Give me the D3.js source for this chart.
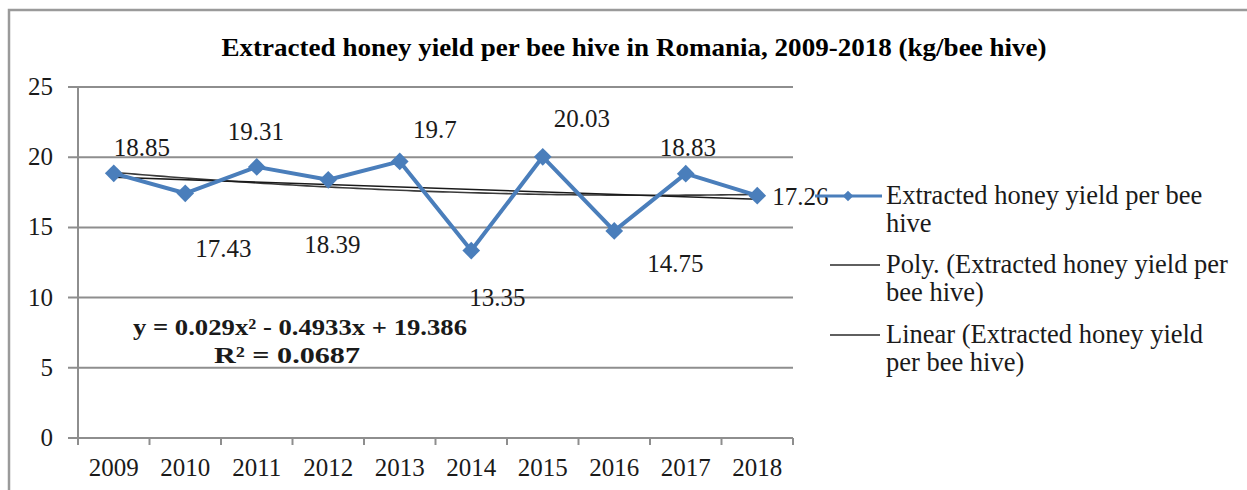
<!DOCTYPE html>
<html>
<head>
<meta charset="utf-8">
<script src="https://cdn.jsdelivr.net/npm/d3@7"></script>
<style>
  html, body { margin: 0; padding: 0; background: #fff; }
  svg { display: block; font-family: "Liberation Serif", "Times New Roman", serif; }
</style>
</head>
<body>
<svg id="chart" width="1247" height="490"></svg>
<script>
// Extracted honey yield per bee hive, Romania (kg/bee hive)
const years = ["2009", "2010", "2011", "2012", "2013", "2014", "2015", "2016", "2017", "2018"];
const yieldValues = [18.85, 17.43, 19.31, 18.39, 19.7, 13.35, 20.03, 14.75, 18.83, 17.26];
const yTicks = [0, 5, 10, 15, 20, 25];
// Polynomial trend coefficients (x = 1..n): y = a x^2 + b x + c
const polyCoef = [0.029, -0.4933, 19.386];
const equationText = ["y = 0.029x² - 0.4933x + 19.386", "R² = 0.0687"];
const legendLabels = [
  ["Extracted honey yield per bee", "hive"],
  ["Poly. (Extracted honey yield per", "bee hive)"],
  ["Linear (Extracted honey yield", "per bee hive)"]
];
// data label placement relative to each point (px)
const labelOffsets = [[28, -26], [38, 55], [-1, -36], [4, 64], [35, -32], [26, 46], [39, -39], [61, 32], [2, -27], [43, 0]];

const svg = d3.select("#chart");
const blue = "#4a7ebb";
const gridColor = "#8e8e8e";

// outer frame
svg.append("rect").attr("x", 9).attr("y", 10).attr("width", 1400).attr("height", 600)
  .attr("fill", "#fff").attr("stroke", "#9a9a9a").attr("stroke-width", 2.5);

// title
svg.append("text").attr("x", 634).attr("y", 56).attr("text-anchor", "middle")
  .attr("font-weight", "bold").attr("font-size", 25)
  .attr("textLength", 825).attr("lengthAdjust", "spacingAndGlyphs")
  .text("Extracted honey yield per bee hive in Romania, 2009-2018  (kg/bee hive)");

const x = d3.scaleBand().domain(years).range([78, 793]);
const y = d3.scaleLinear().domain([0, 25]).range([438, 87]);
const cx = d => x(d) + x.bandwidth() / 2;

// gridlines (extend left as outside ticks)
svg.append("g").selectAll("line").data(yTicks.filter(t => t > 0)).join("line")
  .attr("x1", 68).attr("x2", 793).attr("y1", d => y(d)).attr("y2", d => y(d))
  .attr("stroke", gridColor).attr("stroke-width", 2);

// y axis
svg.append("line").attr("x1", 78).attr("x2", 78).attr("y1", y(25)).attr("y2", y(0))
  .attr("stroke", gridColor).attr("stroke-width", 2);
svg.append("g").selectAll("text").data(yTicks).join("text")
  .attr("x", 53).attr("y", d => y(d) + 8).attr("text-anchor", "end")
  .attr("font-size", 25).attr("fill", "#1a1a1a").text(d => d);

// x axis
const xAxis = d3.axisBottom(x).tickSize(0).tickFormat(() => "");
const gx = svg.append("g").attr("transform", `translate(0,${y(0)})`).call(xAxis);
gx.select(".domain").remove();
gx.append("line").attr("x1", 68).attr("x2", 793).attr("stroke", gridColor).attr("stroke-width", 2);
const boundaries = years.map(d => x(d)).concat([x.range()[1]]);
gx.selectAll(".bnd").data(boundaries).join("line").attr("class", "bnd")
  .attr("x1", d => d).attr("x2", d => d).attr("y1", 0).attr("y2", 7)
  .attr("stroke", gridColor).attr("stroke-width", 2);
svg.append("g").selectAll("text").data(years).join("text")
  .attr("x", d => cx(d)).attr("y", 476).attr("text-anchor", "middle")
  .attr("font-size", 25).attr("fill", "#1a1a1a").text(d => d);

// trend lines
const n = yieldValues.length;
const xs = d3.range(1, n + 1);
const mx = d3.mean(xs), my = d3.mean(yieldValues);
const slope = d3.sum(xs, (v, i) => (v - mx) * (yieldValues[i] - my)) / d3.sum(xs, v => (v - mx) ** 2);
const intercept = my - slope * mx;
const tx = d3.scaleLinear().domain([1, n]).range([cx(years[0]), cx(years[n - 1])]);
const fine = d3.range(1, n + 0.001, 0.1);
const trendLine = d3.line().x(d => tx(d[0])).y(d => y(d[1]));
svg.append("path")
  .attr("d", trendLine(fine.map(t => [t, polyCoef[0] * t * t + polyCoef[1] * t + polyCoef[2]])))
  .attr("fill", "none").attr("stroke", "#3a3a3a").attr("stroke-width", 1.6);
svg.append("path")
  .attr("d", trendLine([[1, slope + intercept], [n, slope * n + intercept]]))
  .attr("fill", "none").attr("stroke", "#1a1a1a").attr("stroke-width", 1.6);

// series line + diamond markers
const line = d3.line().x((d, i) => cx(years[i])).y(d => y(d));
svg.append("path").attr("d", line(yieldValues)).attr("fill", "none")
  .attr("stroke", blue).attr("stroke-width", 4).attr("stroke-linejoin", "round");
const diamond = d3.symbol().type(d3.symbolDiamond2).size(200);
svg.append("g").selectAll("path").data(yieldValues).join("path")
  .attr("transform", (d, i) => `translate(${cx(years[i])},${y(d)})`)
  .attr("d", diamond).attr("fill", blue);

// data labels
svg.append("g").selectAll("text").data(yieldValues).join("text")
  .attr("x", (d, i) => cx(years[i]) + labelOffsets[i][0])
  .attr("y", (d, i) => y(d) + labelOffsets[i][1] + 9)
  .attr("text-anchor", "middle").attr("font-size", 25).attr("fill", "#1a1a1a")
  .text(d => d);

// trendline equation
const eqWidths = [334, 146];
const eqCenters = [300, 287];
svg.append("g").selectAll("text").data(equationText).join("text")
  .attr("x", (d, i) => eqCenters[i]).attr("y", (d, i) => 335 + i * 28).attr("text-anchor", "middle")
  .attr("font-size", 23).attr("font-weight", "bold").attr("fill", "#1a1a1a")
  .attr("textLength", (d, i) => eqWidths[i]).attr("lengthAdjust", "spacingAndGlyphs")
  .text(d => d);

// legend
const legendRows = [196, 265, 335];
const lg = svg.append("g");
legendRows.forEach((ly, i) => {
  if (i === 0) {
    lg.append("line").attr("x1", 815).attr("x2", 882).attr("y1", ly).attr("y2", ly)
      .attr("stroke", blue).attr("stroke-width", 3);
    lg.append("path").attr("transform", `translate(848,${ly})`)
      .attr("d", d3.symbol().type(d3.symbolDiamond2).size(70)).attr("fill", blue);
  } else {
    lg.append("line").attr("x1", 830).attr("x2", 880).attr("y1", ly).attr("y2", ly)
      .attr("stroke", "#2a2a2a").attr("stroke-width", 1.6);
  }
  legendLabels[i].forEach((t, j) => {
    lg.append("text").attr("x", 886).attr("y", ly + 8 + j * 28)
      .attr("font-size", 26.5).attr("fill", "#1a1a1a").text(t);
  });
});
</script>
</body>
</html>
